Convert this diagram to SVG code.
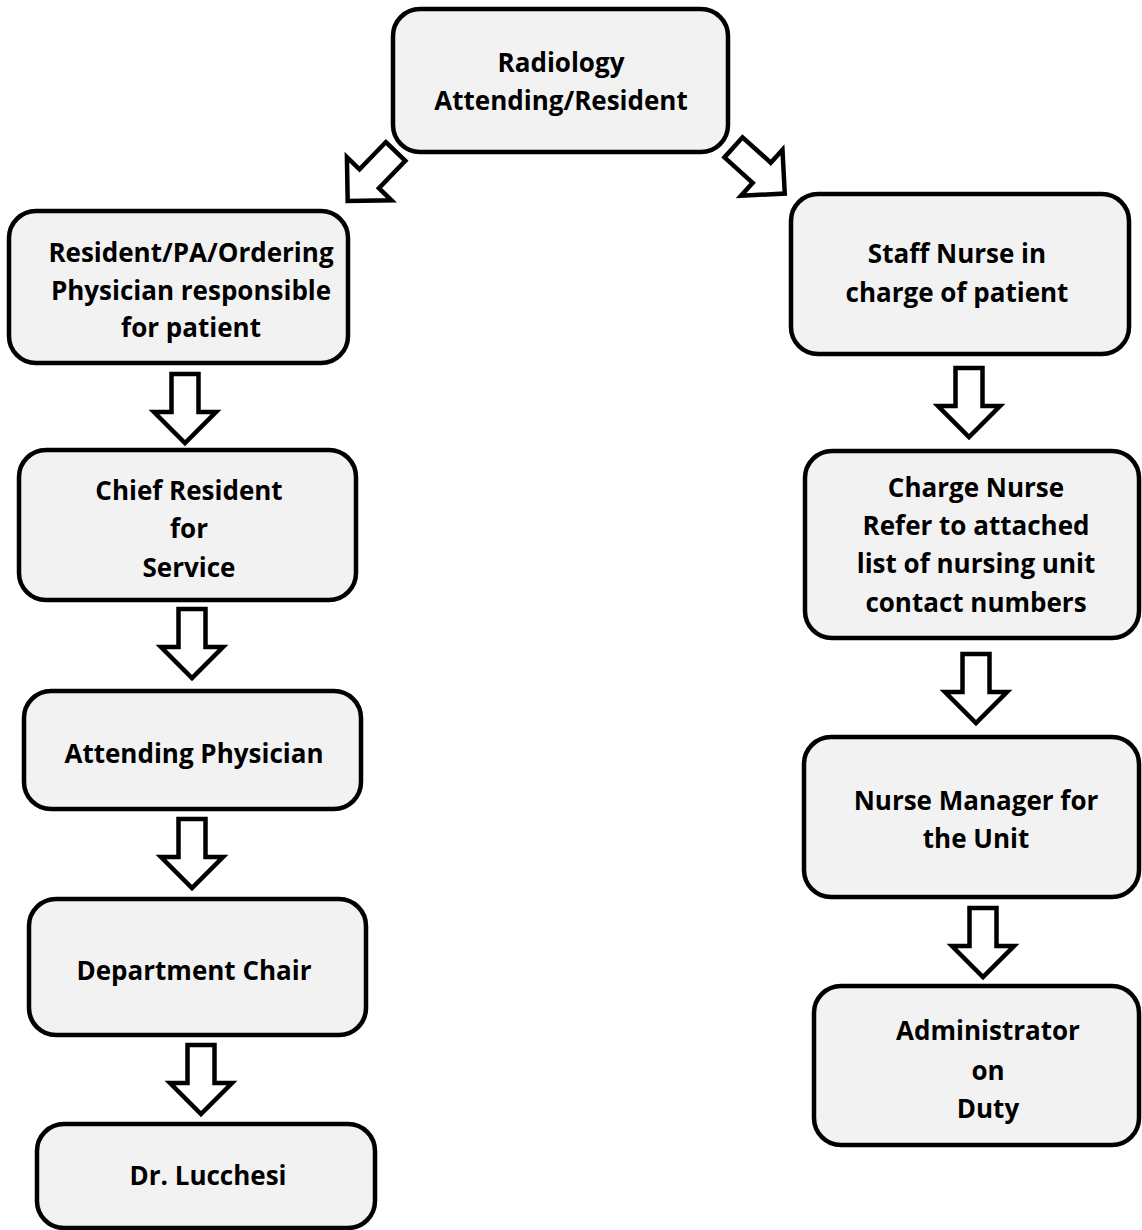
<svg xmlns="http://www.w3.org/2000/svg" width="1142" height="1230" viewBox="0 0 1142 1230">
<style>
.box{fill:#f2f2f2;stroke:#000;stroke-width:4.5}
.arr{fill:#fff;stroke:#000;stroke-width:4.5;stroke-linejoin:miter}
text{font-family:"Open Sans","Noto Sans","DejaVu Sans",sans-serif;font-weight:bold;font-size:26px;fill:#000;text-anchor:middle}
</style>
<defs>
<path id="da" d="M-13.5,2 H13.5 V40 H31 L0,71 L-31,40 H-13.5 Z"/>
</defs>
<rect width="1142" height="1230" fill="#fff"/>
<g id="connectors">
<use href="#da" class="arr" transform="translate(397,150) rotate(44)"/>
<use href="#da" class="arr" transform="translate(732,146) rotate(-48)"/>
<use href="#da" class="arr" transform="translate(185,372)"/>
<use href="#da" class="arr" transform="translate(192,607)"/>
<use href="#da" class="arr" transform="translate(192,817)"/>
<use href="#da" class="arr" transform="translate(201,1043)"/>
<use href="#da" class="arr" transform="translate(969,366)"/>
<use href="#da" class="arr" transform="translate(976,652)"/>
<use href="#da" class="arr" transform="translate(983,906)"/>
</g>
<g id="n-radiology">
<rect class="box" x="393" y="9" width="335" height="143" rx="27"/>
<text x="561" y="72">Radiology</text>
<text x="561" y="110">Attending/Resident</text>
</g>
<g id="n-resident">
<rect class="box" x="9" y="211" width="339" height="152" rx="27"/>
<text x="191" y="262">Resident/PA/Ordering</text>
<text x="191" y="300">Physician responsible</text>
<text x="191" y="337">for patient</text>
</g>
<g id="n-chief">
<rect class="box" x="19" y="450" width="337" height="150" rx="27"/>
<text x="189" y="500">Chief Resident</text>
<text x="189" y="538">for</text>
<text x="189" y="577">Service</text>
</g>
<g id="n-attending">
<rect class="box" x="24" y="691" width="337" height="118" rx="27"/>
<text x="194" y="763">Attending Physician</text>
</g>
<g id="n-chair">
<rect class="box" x="29" y="899" width="337" height="136" rx="27"/>
<text x="194" y="980">Department Chair</text>
</g>
<g id="n-lucchesi">
<rect class="box" x="37" y="1124" width="338" height="104" rx="27"/>
<text x="208" y="1185">Dr. Lucchesi</text>
</g>
<g id="n-staff">
<rect class="box" x="791" y="194" width="338" height="160" rx="27"/>
<text x="957" y="263">Staff Nurse in</text>
<text x="957" y="302">charge of patient</text>
</g>
<g id="n-charge">
<rect class="box" x="805" y="451" width="334" height="187" rx="27"/>
<text x="976" y="497">Charge Nurse</text>
<text x="976" y="535">Refer to attached</text>
<text x="976" y="573">list of nursing unit</text>
<text x="976" y="612">contact numbers</text>
</g>
<g id="n-manager">
<rect class="box" x="804" y="737" width="335" height="160" rx="27"/>
<text x="976" y="810">Nurse Manager for</text>
<text x="976" y="848">the Unit</text>
</g>
<g id="n-admin">
<rect class="box" x="814" y="986" width="325" height="159" rx="27"/>
<text x="988" y="1040">Administrator</text>
<text x="988" y="1080">on</text>
<text x="988" y="1118">Duty</text>
</g>
</svg>
